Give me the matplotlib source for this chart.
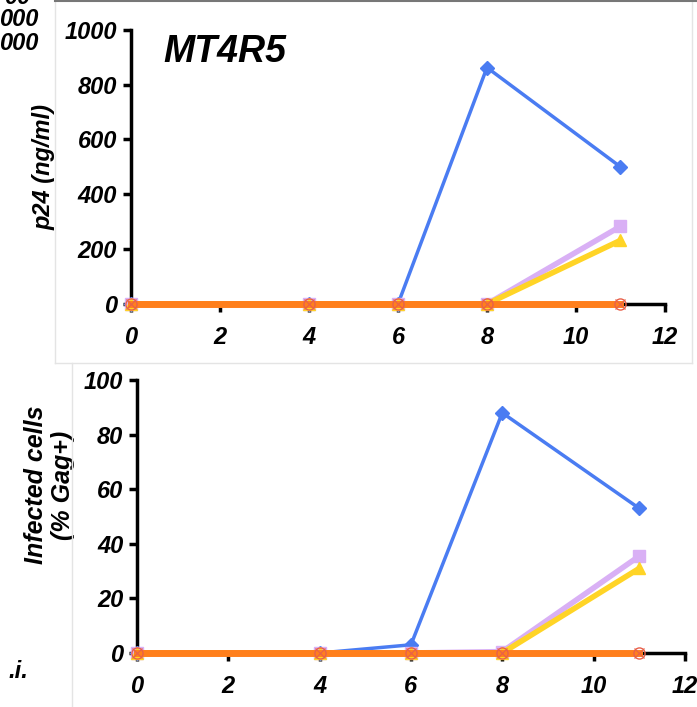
import matplotlib
matplotlib.use("Agg")
import matplotlib.pyplot as plt
from matplotlib.lines import Line2D

plt.rcParams['font.family'] = ['Liberation Sans', 'DejaVu Sans']
plt.rcParams['font.weight'] = 'bold'
plt.rcParams['font.style'] = 'italic'
plt.rcParams['axes.labelweight'] = 'bold'

days = [0, 4, 6, 8, 11]

# p24 (ng/ml)
p24_blue = [0, 0, 0, 862, 500]
p24_lilac = [0, 0, 0, 0, 283]
p24_yellow = [0, 0, 0, 0, 232]
p24_orange = [0, 0, 0, 0, 0]

# infected cells (% Gag+)
gag_blue = [0, 0, 3, 88, 53]
gag_lilac = [0, 0, 0, 0.5, 35.5]
gag_yellow = [0, 0, 0, 0, 31]
gag_orange = [0, 0, 0, 0, 0]

x_ticks = [0, 2, 4, 6, 8, 10, 12]
p24_ticks = [0, 200, 400, 600, 800, 1000]
gag_ticks = [0, 20, 40, 60, 80, 100]

BLUE = '#4a7cf2'
LILAC = '#d9b0f5'
YELLOW = '#ffd426'
ORANGE = '#ff7f1c'
CROSS = '#e8604a'

TICK_SIZE = 17


def draw_panel(ax, blue, lilac, yellow, orange, yticks):
    ax.plot(days, blue, color=BLUE, lw=2.5, marker='D', ms=7,
            markeredgecolor=BLUE, clip_on=False, zorder=3)
    ax.plot(days, lilac, color=LILAC, lw=4, marker='s', ms=9,
            markeredgecolor=LILAC, clip_on=False, zorder=4)
    ax.plot(days, yellow, color=YELLOW, lw=4, marker='^', ms=9,
            markeredgecolor=YELLOW, clip_on=False, zorder=5)
    ax.plot(days, orange, color=ORANGE, lw=5, marker='o', ms=8,
            markerfacecolor='none', markeredgecolor=CROSS, mew=1,
            clip_on=False, zorder=6)
    ax.plot(days, orange, ls='none', marker='x', ms=7, color=CROSS,
            mew=0.8, clip_on=False, zorder=7)

    ax.set_xlim(0, 12)
    ax.set_ylim(0, yticks[-1])
    ax.set_xticks(x_ticks)
    ax.set_yticks(yticks)
    for s in ['top', 'right']:
        ax.spines[s].set_visible(False)
    for s in ['left', 'bottom']:
        ax.spines[s].set_linewidth(2.5)
    ax.tick_params(direction='out', length=6, width=2.5,
                   labelsize=TICK_SIZE, pad=4)
    ax.tick_params(axis='x', pad=10)


fig = plt.figure(figsize=(6.97, 7.07), dpi=100)

ax1 = fig.add_axes([0.188, 0.570, 0.766, 0.388])
draw_panel(ax1, p24_blue, p24_lilac, p24_yellow, p24_orange, p24_ticks)
ax1.set_ylabel('p24 (ng/ml)', fontsize=17)
ax1.yaxis.set_label_coords(-0.142, 0.5)
ax1.text(0.06, 0.92, 'MT4R5', transform=ax1.transAxes, fontsize=27,
         ha='left', va='center')

ax2 = fig.add_axes([0.1966, 0.0764, 0.786, 0.386])
draw_panel(ax2, gag_blue, gag_lilac, gag_yellow, gag_orange, gag_ticks)
ax2.set_ylabel('Infected cells\n(% Gag+)', fontsize=18, linespacing=1.15)
ax2.yaxis.set_label_coords(-0.113, 0.615)

# panel frames and bits of the neighbouring panels
frame = '#e4e4e4'
fig.add_artist(Line2D([55 / 697, 55 / 697], [1, 1 - 363 / 707],
                      color=frame, lw=1))
fig.add_artist(Line2D([55 / 697, 692 / 697], [1 - 363 / 707, 1 - 363 / 707],
                      color=frame, lw=1))
fig.add_artist(Line2D([692 / 697, 692 / 697], [1, 1 - 363 / 707],
                      color=frame, lw=1))
fig.add_artist(Line2D([72 / 697, 72 / 697], [1 - 363 / 707, 0],
                      color=frame, lw=1))
fig.add_artist(Line2D([55 / 697, 1], [1 - 1 / 707, 1 - 1 / 707],
                      color='#777777', lw=1.5))
fig.text(38 / 697, 1 - 20 / 707, '000', fontsize=17, ha='right', va='center')
fig.text(38 / 697, 1 - 44 / 707, '000', fontsize=17, ha='right', va='center')
fig.text(30 / 697, 1 + 3 / 707, '00', fontsize=17, ha='right', va='center')
fig.text(28 / 697, 1 - 672 / 707, '.i.', fontsize=17, ha='right', va='center')

fig.savefig('out.png', dpi=100)
